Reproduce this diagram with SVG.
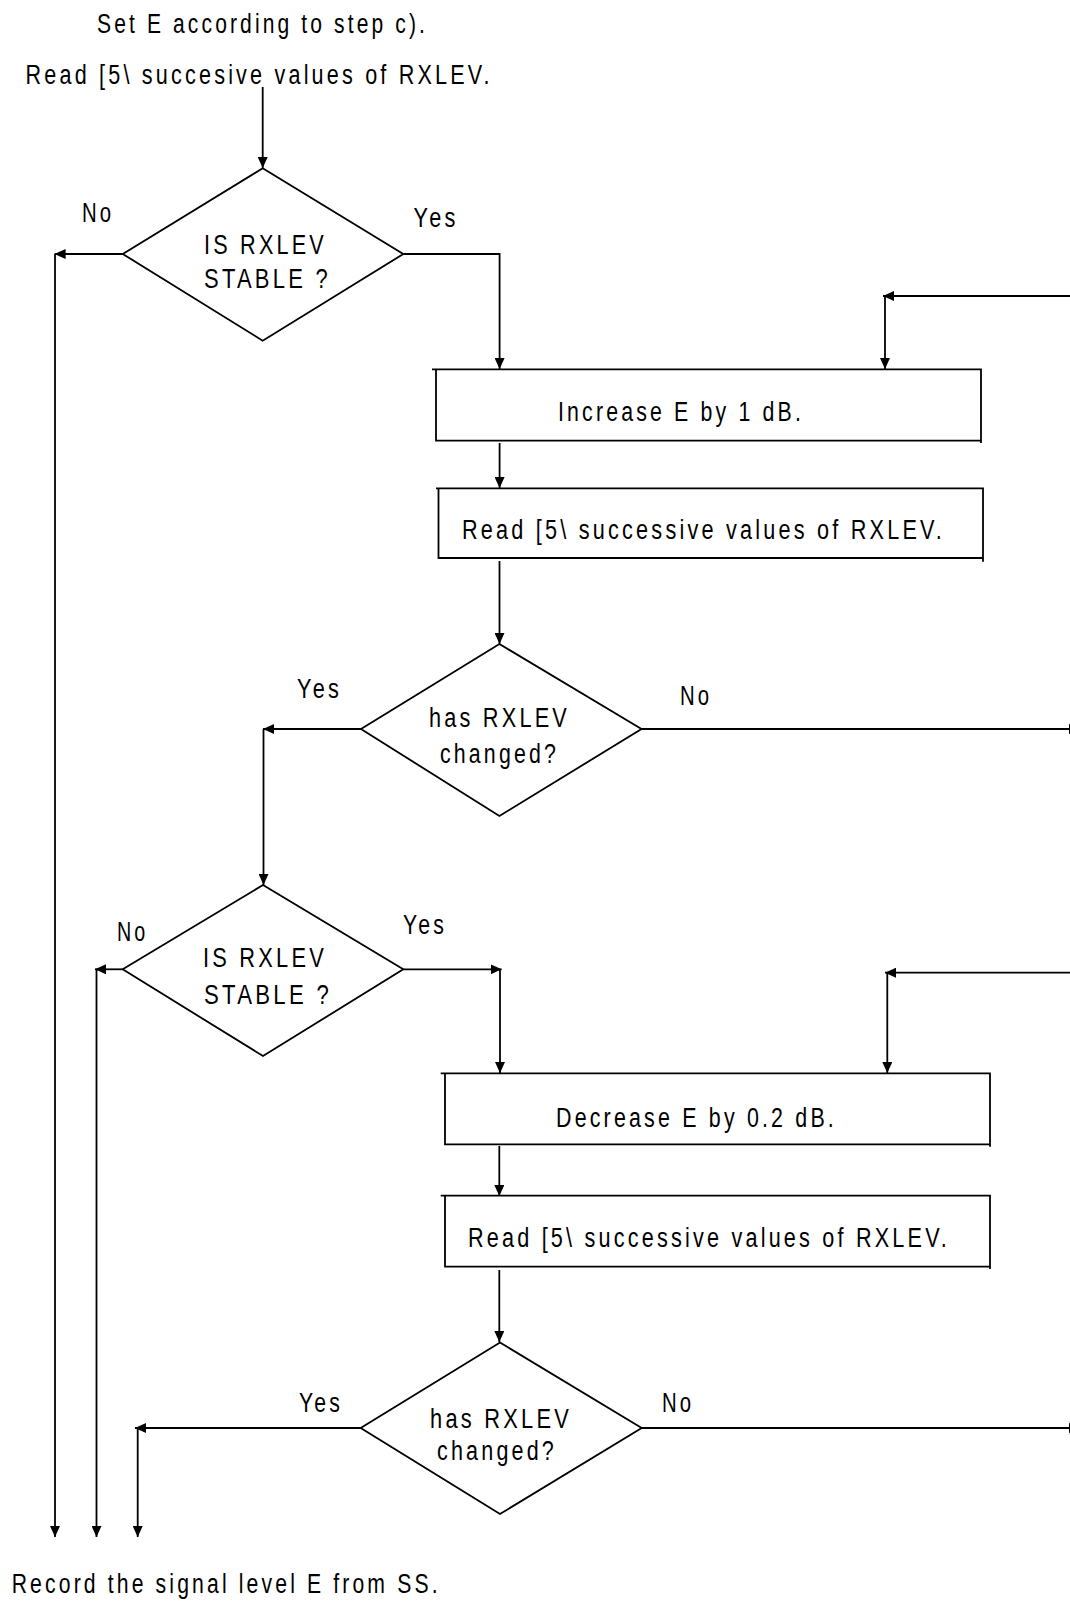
<svg xmlns="http://www.w3.org/2000/svg" width="1070" height="1602" viewBox="0 0 1070 1602">
<style>
.t{font-family:"Liberation Sans",Arial,sans-serif;font-size:27px;letter-spacing:4px;fill:#000}
.s{fill:none;stroke:#000;stroke-width:1.8}
.c{fill:none;stroke:#000;stroke-width:1.8}
</style>
<defs>
<marker id="ah" viewBox="0 0 11 10" refX="11" refY="5" markerWidth="11" markerHeight="10" markerUnits="userSpaceOnUse" orient="auto">
<path d="M0,0 L11,5 L0,10 Z" fill="#000"/>
</marker>
</defs>
<rect width="1070" height="1602" fill="#fff"/>

<g id="start-text">
<text class="t" x="97" y="33" textLength="331" lengthAdjust="spacingAndGlyphs">Set E according to step c).</text>
<text class="t" x="25.6" y="84" textLength="467" lengthAdjust="spacingAndGlyphs">Read [5\ succesive values of RXLEV.</text>
</g>

<g id="decision-stable-1">
<polygon class="s" points="262.7,168.3 403.3,254 262.7,340.7 122.8,254"/>
<text class="t" x="204" y="254" textLength="123" lengthAdjust="spacingAndGlyphs">IS RXLEV</text>
<text class="t" x="204" y="288" textLength="127" lengthAdjust="spacingAndGlyphs">STABLE ?</text>
</g>

<g id="box-increase">
<path class="s" d="M432,369.3 H981 V443 M436,369.3 V440.7 H981"/>
<text class="t" x="558" y="421" textLength="246" lengthAdjust="spacingAndGlyphs">Increase E by 1 dB.</text>
</g>

<g id="box-read-1">
<path class="s" d="M436,488.3 H983 V561.7 M438.5,488.3 V558 H983"/>
<text class="t" x="462" y="539" textLength="483" lengthAdjust="spacingAndGlyphs">Read [5\ successive values of RXLEV.</text>
</g>

<g id="decision-changed-1">
<polygon class="s" points="499.4,644 641.5,729 499.4,816 361,729"/>
<text class="t" x="429" y="727" textLength="141" lengthAdjust="spacingAndGlyphs">has RXLEV</text>
<text class="t" x="440" y="763" textLength="119" lengthAdjust="spacingAndGlyphs">changed?</text>
</g>

<g id="decision-stable-2">
<polygon class="s" points="263,885 403.3,969.3 263,1056 122.7,969.3"/>
<text class="t" x="203" y="967" textLength="124" lengthAdjust="spacingAndGlyphs">IS RXLEV</text>
<text class="t" x="204" y="1004" textLength="128" lengthAdjust="spacingAndGlyphs">STABLE ?</text>
</g>

<g id="box-decrease">
<path class="s" d="M440.7,1073.3 H990 V1146.7 M445,1073.3 V1144.3 H990"/>
<text class="t" x="556" y="1127" textLength="281" lengthAdjust="spacingAndGlyphs">Decrease E by 0.2 dB.</text>
</g>

<g id="box-read-2">
<path class="s" d="M440.7,1195.7 H990 V1269 M445,1195.7 V1266.7 H990"/>
<text class="t" x="468" y="1246.5" textLength="482" lengthAdjust="spacingAndGlyphs">Read [5\ successive values of RXLEV.</text>
</g>

<g id="decision-changed-2">
<polygon class="s" points="500,1342.5 641.7,1428 500,1514 360.7,1428"/>
<text class="t" x="430" y="1428" textLength="142" lengthAdjust="spacingAndGlyphs">has RXLEV</text>
<text class="t" x="437" y="1460" textLength="120" lengthAdjust="spacingAndGlyphs">changed?</text>
</g>

<g id="end-text">
<text class="t" x="11.7" y="1593" textLength="429" lengthAdjust="spacingAndGlyphs">Record the signal level E from SS.</text>
</g>

<g id="connectors">
<path class="c" d="M262.7,87 V168" marker-end="url(#ah)"/>
<path class="c" d="M122.8,254 H54.6" marker-end="url(#ah)"/>
<path class="c" d="M55,254 V1537" marker-end="url(#ah)"/>
<path class="c" d="M403.3,254 H499.6 V369" marker-end="url(#ah)"/>
<path class="c" d="M1072,296 H883" marker-end="url(#ah)"/>
<path class="c" d="M885,296 V369" marker-end="url(#ah)"/>
<path class="c" d="M499.6,443 V488" marker-end="url(#ah)"/>
<path class="c" d="M499.5,561 V644" marker-end="url(#ah)"/>
<path class="c" d="M361,729 H263" marker-end="url(#ah)"/>
<path class="c" d="M263.5,729 V885" marker-end="url(#ah)"/>
<path class="c" d="M641.5,729 H1080" marker-end="url(#ah)"/>
<path class="c" d="M122.7,969.3 H95" marker-end="url(#ah)"/>
<path class="c" d="M96.5,969.3 V1537" marker-end="url(#ah)"/>
<path class="c" d="M403.3,969.3 H501.7" marker-end="url(#ah)"/>
<path class="c" d="M500,969.3 V1073" marker-end="url(#ah)"/>
<path class="c" d="M1072,972.7 H885" marker-end="url(#ah)"/>
<path class="c" d="M887.3,972.7 V1073" marker-end="url(#ah)"/>
<path class="c" d="M499.3,1146 V1196" marker-end="url(#ah)"/>
<path class="c" d="M499.3,1270 V1342" marker-end="url(#ah)"/>
<path class="c" d="M360.7,1428 H135" marker-end="url(#ah)"/>
<path class="c" d="M137.7,1428 V1537" marker-end="url(#ah)"/>
<path class="c" d="M641.7,1428 H1080" marker-end="url(#ah)"/>
</g>

<g id="branch-labels">
<text class="t" x="82" y="222" textLength="32" lengthAdjust="spacingAndGlyphs">No</text>
<text class="t" x="413.5" y="226.5" textLength="45" lengthAdjust="spacingAndGlyphs">Yes</text>
<text class="t" x="297" y="698" textLength="45" lengthAdjust="spacingAndGlyphs">Yes</text>
<text class="t" x="680" y="705" textLength="32" lengthAdjust="spacingAndGlyphs">No</text>
<text class="t" x="117" y="941" textLength="31" lengthAdjust="spacingAndGlyphs">No</text>
<text class="t" x="403" y="934" textLength="44" lengthAdjust="spacingAndGlyphs">Yes</text>
<text class="t" x="299" y="1412" textLength="44" lengthAdjust="spacingAndGlyphs">Yes</text>
<text class="t" x="662" y="1412" textLength="32" lengthAdjust="spacingAndGlyphs">No</text>
</g>
</svg>
